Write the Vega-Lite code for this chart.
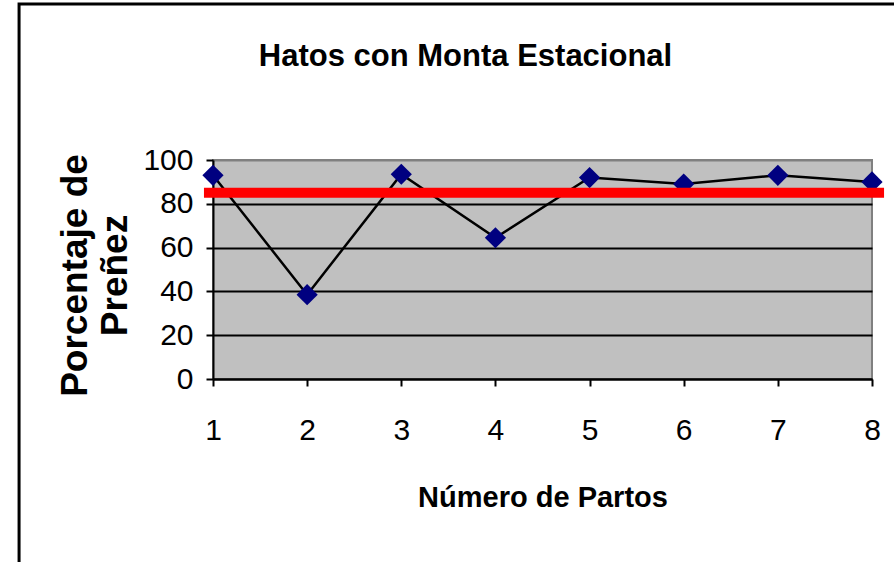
{
  "$schema": "https://vega.github.io/schema/vega-lite/v6.json",
  "width": 659,
  "height": 219,
  "autosize": {"type": "none"},
  "padding": {"left": 213, "top": 160, "right": 22, "bottom": 183},
  "background": "white",
  "config": {
    "font": "Liberation Sans, sans-serif",
    "view": {"fill": "#C0C0C0", "stroke": "#808080", "strokeWidth": 2}
  },
  "title": {
    "text": "Hatos con Monta Estacional",
    "font": "Liberation Sans, sans-serif",
    "fontSize": 31,
    "fontWeight": "bold",
    "color": "black",
    "anchor": "middle",
    "baseline": "alphabetic",
    "dx": -77,
    "offset": -94
  },
  "datasets": {
    "partos": [
      {"parto": 1, "prenez": 93},
      {"parto": 2, "prenez": 38.5},
      {"parto": 3, "prenez": 93.5},
      {"parto": 4, "prenez": 64.5},
      {"parto": 5, "prenez": 92},
      {"parto": 6, "prenez": 89},
      {"parto": 7, "prenez": 93},
      {"parto": 8, "prenez": 90}
    ],
    "meta": [{"meta": 85}]
  },
  "layer": [
    {
      "data": {"name": "partos"},
      "mark": {"type": "line", "color": "black", "strokeWidth": 2.5, "clip": false},
      "encoding": {
        "x": {
          "field": "parto",
          "type": "quantitative",
          "scale": {"domain": [1, 8], "nice": false, "zero": false},
          "axis": {
            "values": [1, 2, 3, 4, 5, 6, 7, 8],
            "format": "d",
            "title": "Número de Partos",
            "titleFont": "Liberation Sans, sans-serif",
            "titleFontSize": 29,
            "titleFontWeight": "bold",
            "titleColor": "black",
            "titlePadding": 38,
            "labelFont": "Liberation Sans, sans-serif",
            "labelFontSize": 30,
            "labelColor": "black",
            "labelPadding": 29,
            "labelFlush": false,
            "domainColor": "black",
            "domainWidth": 2,
            "tickColor": "black",
            "tickWidth": 2,
            "tickSize": 7,
            "grid": false
          }
        },
        "y": {
          "field": "prenez",
          "type": "quantitative",
          "scale": {"domain": [0, 100], "nice": false},
          "axis": {
            "values": [0, 20, 40, 60, 80, 100],
            "format": "d",
            "title": ["Porcentaje de", "Preñez"],
            "titleFont": "Liberation Sans, sans-serif",
            "titleFontSize": 37,
            "titleFontWeight": "bold",
            "titleColor": "black",
            "titleLineHeight": 40,
            "titlePadding": 8,
            "titleY": 115,
            "labelFont": "Liberation Sans, sans-serif",
            "labelFontSize": 30,
            "labelColor": "black",
            "labelPadding": 13,
            "labelFlush": false,
            "domainColor": "black",
            "domainWidth": 2,
            "tickColor": "black",
            "tickWidth": 2,
            "tickSize": 7,
            "grid": true,
            "gridColor": {"condition": {"test": "datum.value == 100", "value": "#808080"}, "value": "black"},
            "gridWidth": 2
          }
        }
      }
    },
    {
      "data": {"name": "partos"},
      "mark": {"type": "point", "shape": "diamond", "filled": true, "color": "#000080", "size": 450, "opacity": 1, "clip": false},
      "encoding": {
        "x": {"field": "parto", "type": "quantitative"},
        "y": {"field": "prenez", "type": "quantitative"}
      }
    },
    {
      "data": {"name": "meta"},
      "mark": {"type": "rule", "color": "#FF0000", "strokeWidth": 10, "clip": false},
      "encoding": {
        "y": {"field": "meta", "type": "quantitative"},
        "x": {"datum": 0.904},
        "x2": {"datum": 8.128}
      }
    },
    {
      "data": {"name": "meta"},
      "mark": {"type": "rect", "filled": false, "stroke": "black", "strokeWidth": 3, "clip": false},
      "encoding": {
        "x": {"datum": -1.06},
        "x2": {"datum": 8.4},
        "y": {"datum": 171.2},
        "y2": {"datum": -95}
      }
    }
  ]
}
